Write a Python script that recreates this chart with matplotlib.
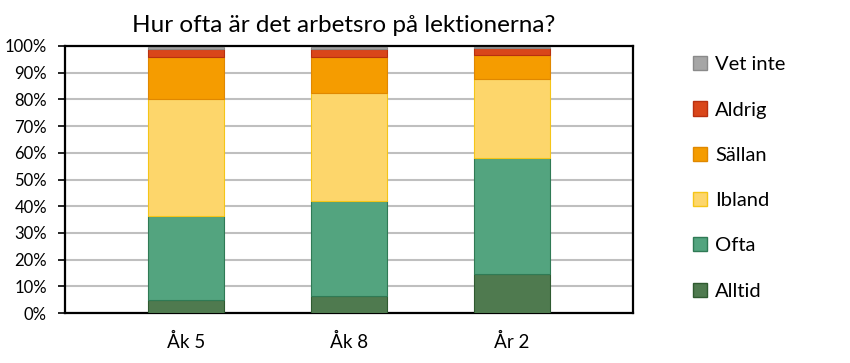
import numpy as np
import matplotlib.pyplot as plt
from matplotlib.patches import Patch

plt.rcParams['font.family'] = ['Lato', 'DejaVu Sans']

groups = ["Åk 5", "Åk 8", "År 2"]
categories = ["Alltid", "Ofta", "Ibland", "Sällan", "Aldrig", "Vet inte"]
alltid = [4.75, 6.25, 14.5]
ofta = [31.5, 35.6, 43.5]
ibland = [43.9, 40.4, 29.6]
sallan = [15.9, 13.75, 9.1]
aldrig = [2.9, 2.75, 2.4]
vet_inte = [0.6, 0.75, 0.4]
series = [alltid, ofta, ibland, sallan, aldrig, vet_inte]

colors = ["#4f7a4f", "#53a47f", "#fdd66b", "#f59c00", "#d9461a", "#a6a6a6"]
edges = ["#2f5a30", "#2f7a55", "#f5c518", "#e08800", "#b83010", "#8a8a8a"]

fig = plt.figure(figsize=(8.5, 3.63), dpi=100)
ax = fig.add_axes([65 / 850, 1 - 313 / 363, 568 / 850, 267 / 363])

x = np.arange(len(groups))
bottom = np.zeros(len(groups))
for vals, c, ec in zip(series, colors, edges):
    ax.bar(x, vals, width=0.47, bottom=bottom, color=c, edgecolor=ec,
           linewidth=0.8, zorder=3)
    bottom += np.array(vals)

ax.set_xlim(-0.742, 2.742)
ax.set_ylim(0, 100)
ax.set_yticks(np.arange(0, 101, 10))
ax.set_yticklabels([f"{v}%" for v in range(0, 101, 10)], fontsize=12)
ax.set_xticks(x)
ax.set_xticklabels(groups, fontsize=13.5)
ax.tick_params(axis='x', length=0, pad=14)
ax.tick_params(axis='y', length=5, width=1.2, pad=8)
ax.yaxis.grid(True, color="#bfbfbf", linewidth=1.5, zorder=0)
for s in ax.spines.values():
    s.set_linewidth(1.6)
    s.set_color("black")

ax.set_title("Hur ofta är det arbetsro på lektionerna?", fontsize=17.5,
             pad=10, x=0.49)

handles = [Patch(facecolor=c, edgecolor=ec, label=l)
           for l, c, ec in zip(categories, colors, edges)][::-1]
fig.legend(handles=handles, loc="upper left", bbox_to_anchor=(675 / 850, 1 - 38 / 363),
           frameon=False, fontsize=14.5, handlelength=0.7, handleheight=0.7,
           handletextpad=0.4, labelspacing=1.4)

fig.savefig("out.png", dpi=100)
